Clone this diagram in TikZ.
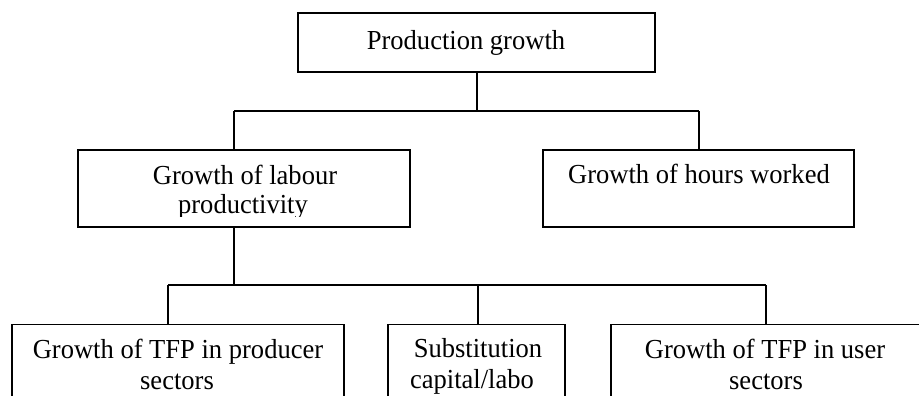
\documentclass[tikz,border=0pt]{standalone}
\usepackage{fontspec}
\setmainfont{Liberation Serif}[FakeStretch=0.965]
\begin{document}
\begin{tikzpicture}[x=1pt,y=1pt,
  box/.style={draw=black,line width=1.7pt,inner sep=0pt,outer sep=0pt,rectangle},
  conn/.style={draw=black,line width=1.3pt},
  lbl/.style={anchor=base,inner sep=0pt,font=\fontsize{27.5}{31}\selectfont}]
\useasboundingbox (0,0) rectangle (919,-396);
\clip (0,0) rectangle (919,-396);
% boxes
\node[box,minimum width=357pt,minimum height=59pt] (pg) at (476.5,-42.5) {};
\node[box,minimum width=332pt,minimum height=77pt] (lp) at (244,-188.5) {};
\node[box,minimum width=311pt,minimum height=77pt] (hw) at (698.5,-188.5) {};
\node[box,minimum width=332pt,minimum height=100pt] (tp) at (178,-374.5) {};
\node[box,minimum width=177pt,minimum height=100pt] (sb) at (476.5,-374.5) {};
\node[box,minimum width=340pt,minimum height=100pt] (tu) at (781,-374.5) {};
% labels
\node[lbl] (tpg) at (466,-50) {Production growth};
\node[lbl] (tlp1) at (245,-184) {Growth of labour};
\begin{scope}
\clip (80,-152) rectangle (408,-216.5);
\node[lbl] (tlp2) at (243,-213) {productivity};
\end{scope}
\node[lbl] (thw) at (699,-183) {Growth of hours worked};
\node[lbl] (ttp1) at (178,-358) {Growth of TFP in producer};
\node[lbl] (ttp2) at (177,-389) {sectors};
\node[lbl] (tsb1) at (478,-357) {Substitution};
\node[lbl] (tsb2) at (472,-388) {capital/labo};
\node[lbl] (ttu1) at (765,-358) {Growth of TFP in user};
\node[lbl] (ttu2) at (766,-389) {sectors};
% connectors
\coordinate (j1) at (477,-111);
\coordinate (jl) at (234,-111);
\coordinate (jr) at (699,-111);
\coordinate (k) at (234,-285);
\coordinate (kl) at (168,-285);
\coordinate (km) at (478,-285);
\coordinate (kr) at (766,-285);
\draw[conn] (pg.south -| j1) -- (j1);
\draw[conn] (jl) -- (jr);
\draw[conn] (jl) -- (jl |- lp.north);
\draw[conn] (jr) -- (jr |- hw.north);
\draw[conn] (jl |- lp.south) -- (k);
\draw[conn] (kl) -- (kr);
\draw[conn] (kl) -- (kl |- tp.north);
\draw[conn] (km) -- (km |- sb.north);
\draw[conn] (kr) -- (kr |- tu.north);
\end{tikzpicture}
\end{document}
